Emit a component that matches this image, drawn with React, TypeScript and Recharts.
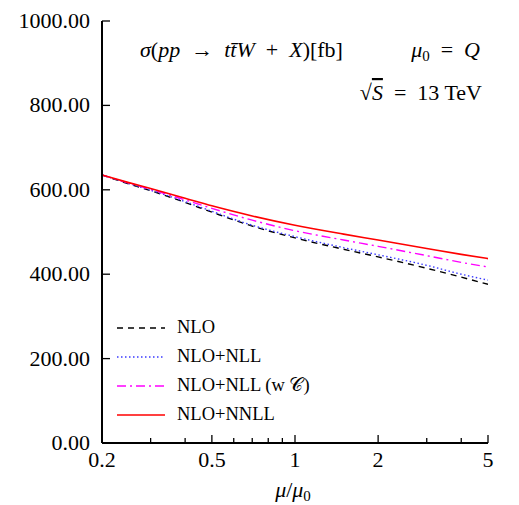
import React from 'react'
import { LineChart, Line, XAxis, YAxis, Legend } from 'recharts'

// scale ratio mu/mu0 (log axis)
const muValues = [0.2, 0.25, 0.3, 0.4, 0.5, 0.7, 1, 1.5, 2, 3, 4, 5]

// cross sections in fb
const nlo = [635, 614, 598, 570, 547, 514, 486, 459, 441, 414, 393, 376]
const nloNll = [635, 615, 599, 572, 549, 516, 489, 463, 446, 421, 400, 386]
const nloNllC = [635, 616, 601, 576, 556, 528, 503, 481, 466, 444, 428, 417]
const nloNnll = [635, 617, 603, 580, 562, 538, 516, 495, 481, 461, 447, 437]

const xTicks = [0.2, 0.3, 0.4, 0.5, 0.6, 0.7, 0.8, 0.9, 1, 2, 3, 4, 5]
const xMajor = [0.2, 0.5, 1, 2, 5]
const yTicks = [0, 200, 400, 600, 800, 1000]

const series = [
  { key: 'nlo', name: 'NLO', color: '#000000', dash: '6 5', width: 1.4 },
  { key: 'nloNll', name: 'NLO+NLL', color: '#3a3aff', dash: '1.5 2.5', width: 1.4 },
  { key: 'nloNllC', name: 'NLO+NLL (w 𝒞)', color: '#ff00ff', dash: '9 4 2 4', width: 1.4 },
  { key: 'nloNnll', name: 'NLO+NNLL', color: '#ff0000', dash: undefined, width: 1.6 },
]

const data = muValues.map((mu, i) => ({
  mu,
  nlo: nlo[i],
  nloNll: nloNll[i],
  nloNllC: nloNllC[i],
  nloNnll: nloNnll[i],
}))

const FONT = 'Liberation Serif'
const TICK_FONT = 22
const EN = '\u2002'

const BottomTick = (props: any) => {
  const { x, y, payload } = props
  const major = xMajor.includes(payload.value)
  return (
    <g>
      <line x1={x} x2={x} y1={y} y2={y - (major ? 8 : 5)} stroke="#000" strokeWidth={1.3} />
      {major && (
        <text x={x} y={y + 24} textAnchor="middle" fontFamily={FONT} fontSize={TICK_FONT} fill="#000">
          {payload.value}
        </text>
      )}
    </g>
  )
}

const TopTick = (props: any) => {
  const { x, y, payload } = props
  const major = xMajor.includes(payload.value)
  return <line x1={x} x2={x} y1={y} y2={y + (major ? 8 : 5)} stroke="#000" strokeWidth={1.3} />
}

const LeftTick = (props: any) => {
  const { x, y, payload } = props
  return (
    <g>
      <line x1={x} x2={x + 8} y1={y} y2={y} stroke="#000" strokeWidth={1.3} />
      <text x={x - 12} y={y + 7} textAnchor="end" fontFamily={FONT} fontSize={TICK_FONT} fill="#000">
        {payload.value.toFixed(2)}
      </text>
    </g>
  )
}

const RightTick = (props: any) => {
  const { x, y } = props
  return <line x1={x} x2={x - 8} y1={y} y2={y} stroke="#000" strokeWidth={1.3} />
}

const LegendBox = () => (
  <div style={{ fontFamily: FONT, fontSize: 18.5, color: '#000' }}>
    {series.map((s) => (
      <div key={s.key} style={{ display: 'flex', alignItems: 'center', height: 29 }}>
        <svg width={62} height={10}>
          <line x1={2} x2={50} y1={5} y2={5} stroke={s.color} strokeWidth={s.width} strokeDasharray={s.dash} />
        </svg>
        <span>{s.name}</span>
      </div>
    ))}
  </div>
)

export default function App() {
  const axisLine = { stroke: '#000', strokeWidth: 2 }
  return (
    <div style={{ position: 'absolute', left: 0, top: 0, width: 519, height: 505, background: '#fff' }}>
      <LineChart width={519} height={505} data={data} margin={{ top: 21, right: 31, bottom: 12, left: 12 }}>
        <XAxis
          xAxisId="bottom"
          dataKey="mu"
          type="number"
          scale="log"
          domain={[0.2, 5]}
          ticks={xTicks}
          allowDataOverflow
          height={50}
          axisLine={axisLine}
          tickLine={false}
          tickSize={0}
          tickMargin={0}
          tick={<BottomTick />}
          interval={0}
        />
        <XAxis
          xAxisId="top"
          orientation="top"
          dataKey="mu"
          type="number"
          scale="log"
          domain={[0.2, 5]}
          ticks={xTicks}
          allowDataOverflow
          height={0}
          axisLine={axisLine}
          tickLine={false}
          tickSize={0}
          tickMargin={0}
          tick={<TopTick />}
          interval={0}
        />
        <YAxis
          yAxisId="left"
          type="number"
          domain={[0, 1000]}
          ticks={yTicks}
          width={90}
          axisLine={axisLine}
          tickLine={false}
          tickSize={0}
          tickMargin={0}
          tick={<LeftTick />}
          interval={0}
        />
        <YAxis
          yAxisId="right"
          orientation="right"
          type="number"
          domain={[0, 1000]}
          ticks={yTicks}
          width={0}
          axisLine={axisLine}
          tickLine={false}
          tickSize={0}
          tickMargin={0}
          tick={<RightTick />}
          interval={0}
        />
        {series.map((s) => (
          <Line
            key={s.key}
            xAxisId="bottom"
            yAxisId="left"
            dataKey={s.key}
            name={s.name}
            type="monotone"
            stroke={s.color}
            strokeWidth={s.width}
            strokeDasharray={s.dash}
            dot={false}
            isAnimationActive={false}
          />
        ))}
        <Legend
          layout="horizontal"
          verticalAlign="middle"
          align="center"
          content={<LegendBox />}
          wrapperStyle={{ left: 115, top: 313, width: 240 }}
        />
      </LineChart>
      <svg
        width={519}
        height={505}
        style={{ position: 'absolute', left: 0, top: 0, pointerEvents: 'none' }}
      >
        <g fontFamily={FONT} fontSize={22} fill="#000">
          <text x={140} y={57} xmlSpace="preserve">
            <tspan fontStyle="italic">σ</tspan>(<tspan fontStyle="italic">pp</tspan>{EN}→{EN}<tspan fontStyle="italic">t{'t\u0304'}W</tspan>{EN}+{EN}<tspan fontStyle="italic">X</tspan>)[fb]
          </text>
          <text x={480} y={57} textAnchor="end">
            <tspan fontStyle="italic">μ</tspan>
            <tspan fontSize={15} dy={4}>0</tspan>
            <tspan dy={-4}>{EN}={EN}</tspan>
            <tspan fontStyle="italic">Q</tspan>
          </text>
          <text x={482} y={100} textAnchor="end">
            √<tspan fontStyle="italic" textDecoration="overline">S</tspan>{EN}={EN}13 TeV
          </text>
          <text x={293} y={497} textAnchor="middle">
            <tspan fontStyle="italic">μ</tspan>/<tspan fontStyle="italic">μ</tspan>
            <tspan fontSize={15} dy={4}>0</tspan>
          </text>
        </g>
      </svg>
    </div>
  )
}
